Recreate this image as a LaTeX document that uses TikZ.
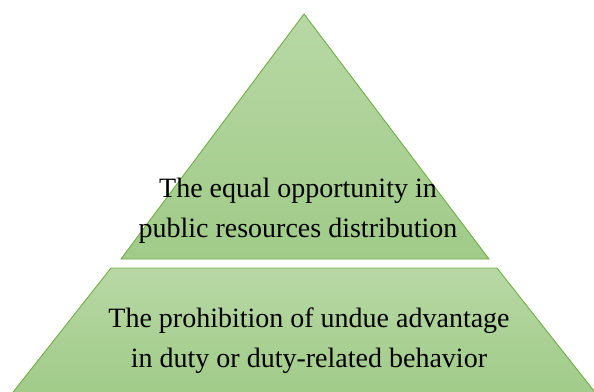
\documentclass[tikz,border=0pt]{standalone}
\usepackage{fontspec}
\setmainfont{Liberation Serif}
\usepackage{tikz}
\usetikzlibrary{positioning, calc}

\definecolor{leafedge}{RGB}{112,173,71}
\definecolor{leaftop}{RGB}{184,216,165}
\definecolor{leafbot}{RGB}{160,203,136}

\begin{document}
\begin{tikzpicture}[
        x=1pt, y=-1pt,
        level/.style={draw=leafedge, line width=0.9pt, top color=leaftop, bottom color=leafbot, line join=miter},
        label/.style={inner sep=0pt, align=center, font=\fontsize{28}{40}\selectfont}
    ]
        \useasboundingbox (0,0) rectangle (594,391);
        \clip (0,0) rectangle (594,391);

        % --- CORNERS ---
        \coordinate (apex) at (304,14);
        \coordinate (topleft) at (121,259);
        \coordinate (topright) at (489,259);
        \coordinate (baseleft) at (111,268);
        \coordinate (baseright) at (497,268);
        \coordinate (footleft) at (14,391);
        \coordinate (footright) at (594,391);

        % --- LEVELS ---
        \path[level] (apex) -- (topright) -- (topleft) -- cycle;
        \path[level] (baseleft) -- (baseright) -- ($(footright)+(4,5)$) -- ($(footleft)+(-4,5)$) -- cycle;

        % --- TEXTS ---
        \node[label] (equal) at (298,210.5) {The equal opportunity in\\public resources distribution};
        \node[label] (undue) at (309,340.5) {The prohibition of undue advantage\\in duty or duty-related behavior};

    \end{tikzpicture}
\end{document}
